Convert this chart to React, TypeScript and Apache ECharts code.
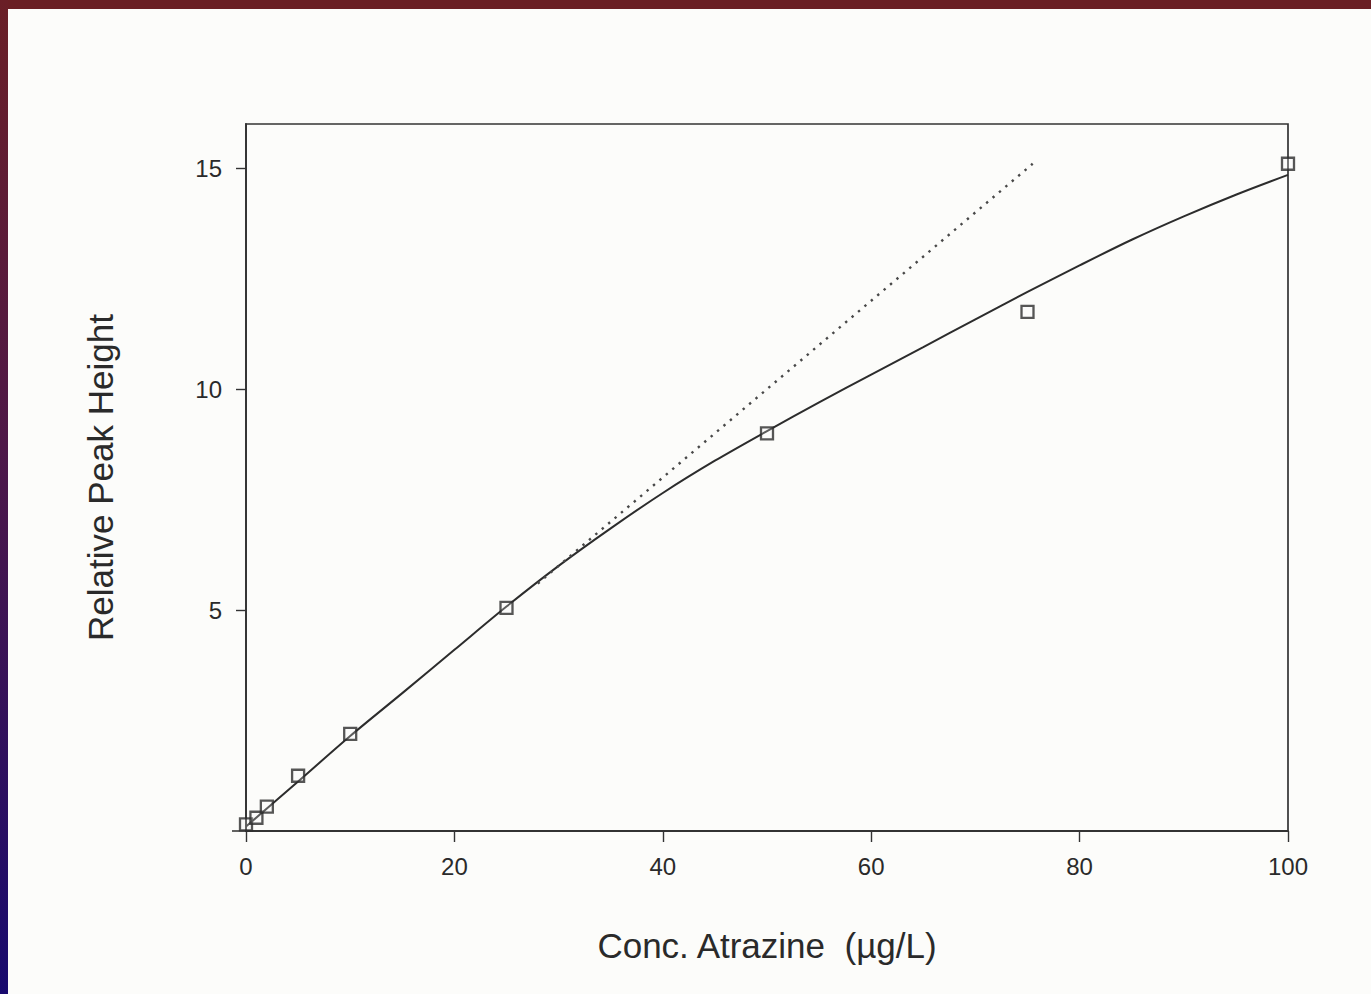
import React, { useEffect, useRef } from "react";
import * as echarts from "echarts";

// Calibration points (concentration µg/L, relative peak height)
const pointConc = [0, 1, 2, 5, 10, 25, 50, 75, 100];
const pointHeight = [0.15, 0.3, 0.55, 1.25, 2.2, 5.05, 9.0, 11.75, 15.1];

// Fitted (solid) curve
const curveConc = [0, 5, 10, 15, 20, 25, 30, 35, 40, 45, 50, 55, 60, 65, 70, 75, 80, 85, 90, 95, 100];
const curveHeight = [0.1, 1.12, 2.15, 3.12, 4.1, 5.08, 6.0, 6.85, 7.65, 8.38, 9.05, 9.7, 10.33, 10.95, 11.58, 12.2, 12.8, 13.38, 13.91, 14.4, 14.85];

// Linear extrapolation (dotted)
const linearConc = [28, 75.5];
const linearHeight = [5.6, 15.1];

const xTicks = [0, 20, 40, 60, 80, 100];
const yTicks = [5, 10, 15];

const xTitle = "Conc. Atrazine  (µg/L)";
const yTitle = "Relative Peak Height";

const INK = "#2c2c2c";
const TEXT = "#2a2a2a";
const FONT = "'Liberation Sans', Arial, Helvetica, sans-serif";

export default function App() {
  const ref = useRef<HTMLDivElement>(null);

  useEffect(() => {
    if (!ref.current) return;
    const chart = echarts.init(ref.current, undefined, { renderer: "svg" });
    const option: any = {
      animation: false,
      backgroundColor: "#fcfcfa",
      graphic: [
        {
          type: "rect",
          shape: { x: 0, y: 0, width: 1371, height: 9 },
          style: { fill: "#6a1f24" },
          silent: true,
        },
        {
          type: "rect",
          shape: { x: 0, y: 0, width: 8, height: 994 },
          style: {
            fill: new echarts.graphic.LinearGradient(0, 0, 0, 1, [
              { offset: 0, color: "#6a1f26" },
              { offset: 0.45, color: "#4e1848" },
              { offset: 1, color: "#180a6e" },
            ]),
          },
          silent: true,
        },
        {
          type: "line",
          shape: { x1: 232, y1: 831, x2: 246, y2: 831 },
          style: { stroke: "#3a3a3a", lineWidth: 1.6 },
          silent: true,
        },
      ],
      grid: {
        left: 246,
        right: 83,
        top: 124,
        bottom: 163,
        show: true,
        borderColor: "#333333",
        borderWidth: 1.7,
        containLabel: false,
      },
      xAxis: {
        type: "value",
        min: 0,
        max: 100,
        interval: 20,
        name: xTitle,
        nameLocation: "middle",
        nameGap: 114,
        nameTextStyle: {
          fontFamily: FONT,
          fontSize: 35,
          color: TEXT,
          verticalAlign: "middle",
        },
        axisLine: { show: true, lineStyle: { color: "#333333", width: 1.8 } },
        axisTick: {
          show: true,
          length: 11,
          inside: false,
          lineStyle: { color: "#333333", width: 1.4 },
          customValues: xTicks,
        },
        axisLabel: {
          show: true,
          fontFamily: FONT,
          fontSize: 24,
          color: TEXT,
          margin: 23,
          customValues: xTicks,
        },
        splitLine: { show: false },
      },
      yAxis: {
        type: "value",
        min: 0,
        max: 16,
        interval: 5,
        name: yTitle,
        nameLocation: "middle",
        nameGap: 146,
        nameRotate: 90,
        nameTextStyle: {
          fontFamily: FONT,
          fontSize: 35,
          color: TEXT,
          verticalAlign: "middle",
        },
        axisLine: { show: true, lineStyle: { color: "#333333", width: 1.8 } },
        axisTick: {
          show: true,
          length: 10,
          inside: false,
          lineStyle: { color: "#333333", width: 1.4 },
          customValues: yTicks,
        },
        axisLabel: {
          show: true,
          fontFamily: FONT,
          fontSize: 24,
          color: TEXT,
          margin: 24,
          customValues: yTicks,
        },
        splitLine: { show: false },
      },
      series: [
        {
          type: "line",
          data: curveConc.map((x, i) => [x, curveHeight[i]]),
          smooth: 0.3,
          symbol: "none",
          lineStyle: { color: INK, width: 2 },
          z: 2,
        },
        {
          type: "line",
          data: linearConc.map((x, i) => [x, linearHeight[i]]),
          symbol: "none",
          lineStyle: { color: "#484848", width: 2.4, type: [2.4, 6] },
          z: 2,
        },
        {
          type: "scatter",
          data: pointConc.map((x, i) => [x, pointHeight[i]]),
          symbol: "rect",
          symbolSize: 12,
          itemStyle: {
            color: "rgba(252,252,250,0.3)",
            borderColor: INK,
            borderWidth: 2.3,
          },
          z: 3,
        },
      ],
    };
    chart.setOption(option);
    return () => chart.dispose();
  }, []);

  return (
    <div
      ref={ref}
      style={{ position: "absolute", left: 0, top: 0, width: 1371, height: 994 }}
    />
  );
}
